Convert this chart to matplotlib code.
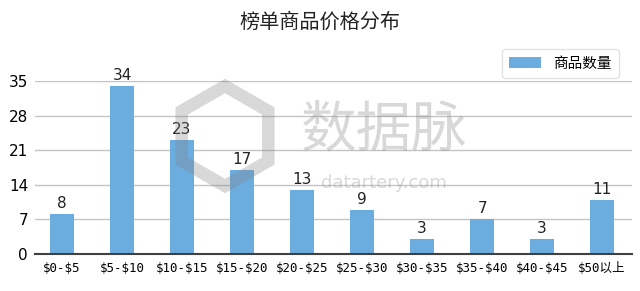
import matplotlib
matplotlib.use("Agg")
import matplotlib.pyplot as plt
from matplotlib.patches import RegularPolygon

plt.rcParams['font.family'] = ['Noto Sans CJK SC', 'DejaVu Sans']

categories = ["$0-$5", "$5-$10", "$10-$15", "$15-$20", "$20-$25",
              "$25-$30", "$30-$35", "$35-$40", "$40-$45", "$50以上"]
values = [8, 34, 23, 17, 13, 9, 3, 7, 3, 11]
yticks = [0, 7, 14, 21, 28, 35]
title = "榜单商品价格分布"
series_name = "商品数量"

fig = plt.figure(figsize=(6.4, 2.91), dpi=100)
ax = fig.add_axes([0.0547, 0.127, 0.933, 0.595])

x = list(range(len(categories)))
ax.bar(x, values, width=0.4, color="#6CADDF", label=series_name, zorder=3)
for xi, v in zip(x, values):
    ax.text(xi, v + 0.6, str(v), ha="center", va="bottom", fontsize=11,
            color="#222222", family="DejaVu Sans", zorder=5, clip_on=False)

ax.set_xlim(-0.45, 9.5)
ax.set_ylim(0, 35)
ax.set_yticks(yticks)
ax.set_yticklabels([str(t) for t in yticks], fontsize=11, family="DejaVu Sans")
ax.set_xticks(x)
ax.set_xticklabels([c.replace("$", r"\$") for c in categories], fontsize=9,
                   family=["DejaVu Sans Mono", "Noto Sans CJK SC"])
ax.tick_params(axis="both", length=0, pad=6)
ax.tick_params(axis="y", pad=5)
ax.grid(axis="y", color="#c4c4c4", linewidth=1, zorder=0)
for s in ["top", "right", "left"]:
    ax.spines[s].set_visible(False)
ax.spines["bottom"].set_color("#404040")
ax.spines["bottom"].set_linewidth(1.5)
ax.spines["bottom"].set_zorder(4)

fig.text(0.5, 0.925, title, ha="center", va="center", fontsize=14.5, color="#222222")

ax.legend(loc="upper right", bbox_to_anchor=(0.99, 1.225), fontsize=10.5,
          frameon=True, fancybox=True, edgecolor="#dddddd",
          handlelength=2.2, handleheight=0.7, borderpad=0.5)

# watermark
fig.text(0.60, 0.55, "数据脉", ha="center", va="center", fontsize=40,
         color="#909090", alpha=0.35, zorder=10)
fig.text(0.60, 0.37, "datartery.com", ha="center", va="center", fontsize=13,
         color="#909090", alpha=0.35, family="DejaVu Sans", zorder=10)
hexp = RegularPolygon((2.25, 1.55), numVertices=6, radius=0.5,
                      orientation=0, fill=False, edgecolor="#808080",
                      linewidth=9, alpha=0.3, zorder=10)
hexp.set_transform(fig.dpi_scale_trans)
fig.patches.append(hexp)

fig.savefig("out.png", dpi=100)
